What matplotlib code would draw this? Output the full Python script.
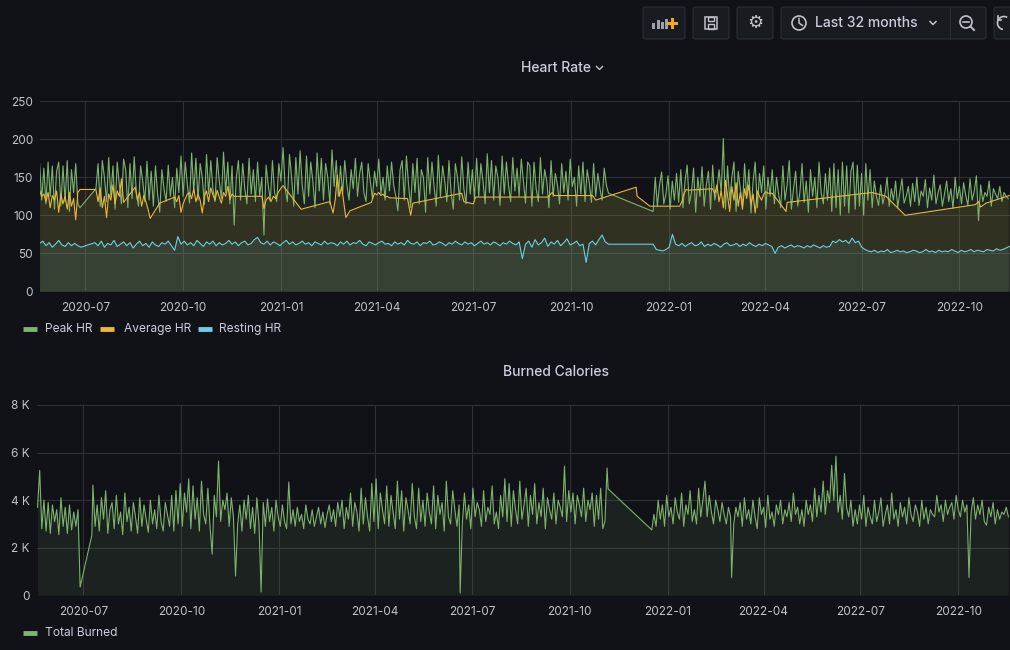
import numpy as np
import matplotlib
matplotlib.use('Agg')
import matplotlib.pyplot as plt
import matplotlib.dates as mdates
from matplotlib.patches import FancyBboxPatch, Circle, Rectangle, Arc

plt.rcParams['font.family'] = ['Inter', 'DejaVu Sans']

BG = '#111217'
GRID = '#2f3035'
TXT = '#ccccdc'
ICON = '#c2c2cc'
GREEN = '#7eb26d'
YELLOW = '#eab839'
CYAN = '#6ed0e0'

START = '2020-05-19'

# each chunk: (first day, last day, values), days counted from START
# the points of a chunk are spread evenly between first and last day,
# gaps between chunks get joined by a straight line (as grafana does)
peak_hr = [
    (0, 38, [168, 120, 162, 115, 170, 125, 165, 108, 158, 170, 112, 165, 118, 172, 105, 160, 130, 168, 115, 110]),
    (53, 535, [135, 168, 112, 172, 150, 118, 176, 125, 165, 108, 170, 140, 115, 174, 160, 110, 168, 122, 177, 130,
               112, 165, 145, 118, 171, 120,
               158, 112, 165, 128, 104, 160, 135, 118, 166, 125, 150, 110, 162, 130,
               178, 125, 170, 140, 116, 182, 130, 175, 120, 168, 150, 114, 180, 128, 172, 135, 118, 176, 145, 122,
               183, 130, 170, 115, 165, 87,
               150, 172, 120, 168, 135, 115, 175, 128, 160, 118, 170, 125, 150, 74, 166, 140, 120, 172, 130, 118,
               168, 145,
               189, 135, 118, 180, 150, 112, 176, 128, 185, 140, 115, 178, 125, 170, 145, 110, 182, 132, 175, 120,
               168, 150, 115, 186, 138, 172, 125,
               165, 128, 172, 140, 120, 160, 135, 175, 125, 155, 170, 130, 118, 168, 145, 122, 158, 138, 174, 128,
               150, 120, 165, 132, 170, 140, 125, 106, 160,
               172, 120, 178, 140, 110, 168, 130, 175, 115, 160, 150, 104, 176, 128, 170, 138, 112, 179, 125, 165,
               145, 118, 172, 130, 108, 168, 150, 120, 177, 135, 115, 170, 128, 160, 122,
               175, 125, 168, 145, 115, 181, 130, 172, 120, 165, 150, 113, 178, 128, 170, 140, 118, 176, 132, 162,
               125, 174, 145, 116, 170,
               165, 112, 170, 135, 118, 176, 128, 160, 145, 110, 172, 125, 155, 140, 115, 168, 130, 158, 120, 174,
               138, 150, 112, 165, 128, 170, 118, 160, 142, 117, 168, 125, 155, 135, 120, 162, 140, 129]),
    (577, 911, [105, 150, 112, 140, 157, 115, 128, 152, 108, 145, 120, 155, 117,
                160, 110, 145, 166, 115, 130, 162, 104, 150, 125, 164, 112, 140, 158, 108, 166, 120, 135, 160,
                130, 201, 108, 165, 120, 150, 170, 105, 158, 135, 112, 168, 125, 160, 103, 145, 170, 110, 155, 130,
                165, 108, 150, 125, 160,
                115, 150, 128, 110, 165, 120, 140, 172, 108, 135, 158, 112, 130, 168, 117, 145, 104, 160, 125, 150,
                110, 170, 130, 115, 155, 120, 162,
                105, 168, 110, 160, 100, 170, 112, 165, 103, 158, 170, 108, 166, 112, 155, 100, 168, 120, 160, 110,
                145, 125, 113,
                140, 115, 128, 150, 112, 135, 120, 145, 110, 130, 148, 116, 125, 138, 112, 142, 118, 150, 113, 132,
                125, 147, 110, 136, 120, 153, 115, 130, 140, 112, 128, 145, 118, 135, 109, 150, 122, 138, 115, 143,
                126, 113, 148, 120, 132, 152, 93, 140, 118, 130, 125, 145, 112, 135, 128, 122, 138, 118, 130, 125,
                122]),
]

average_hr = [
    (0, 36, [133, 125, 128, 118, 130, 110, 126, 120, 132, 104, 128, 115, 125, 108, 130, 112, 122, 94, 130]),
    (38, 38, [134]), (53, 53, [134]),
    (55, 77, [118, 136, 110, 125, 97, 128, 120, 140, 115, 132, 125, 148]),
    (79, 79, [117]), (90, 90, [137]),
    (92, 104, [120, 130, 112, 126, 118, 108, 96]),
    (113, 113, [116]), (127, 127, [124]),
    (129, 141, [118, 126, 104, 115, 122, 128, 130]),
    (143, 185, [122, 135, 118, 128, 120, 103, 125, 132, 118, 136, 127, 120, 133, 124, 116, 130, 125, 138, 121,
                128, 125, 125]),
    (209, 209, [125]), (211, 211, [109]),
    (213, 229, [120, 124, 118, 125, 122, 130, 135, 139]),
    (246, 246, [108]), (273, 273, [118]), (276, 276, [103]),
    (278, 288, [120, 153, 125, 138, 118, 97]),
    (292, 292, [106]), (312, 312, [117]), (315, 315, [129]),
    (317, 329, [127, 130, 126, 128, 124, 125, 123]),
    (346, 346, [122]), (349, 349, [100]), (351, 351, [116]), (397, 397, [129]), (399, 399, [118]),
    (408, 408, [115]), (410, 410, [124]), (478, 478, [124]), (482, 482, [130]), (484, 484, [126]),
    (520, 520, [126]), (523, 523, [120]), (561, 561, [137]), (562, 562, [125]), (574, 574, [112]),
    (602, 602, [112]),
    (604, 610, [118, 128, 134, 133]),
    (633, 633, [135]),
    (635, 685, [128, 140, 118, 132, 110, 146, 125, 105, 138, 120, 143, 112, 130, 108, 135, 122, 140, 115, 128,
                103, 132, 125, 120, 128, 131, 129]),
    (689, 689, [129]), (702, 702, [105]), (703, 703, [117]), (783, 783, [130]), (796, 796, [125]),
    (814, 814, [100]), (880, 880, [114]), (883, 883, [118]), (885, 885, [111]), (890, 890, [116]),
    (912, 912, [126]),
]

resting_hr = [
    (0, 39, [63, 66, 60, 64, 58, 62, 67, 61, 59, 64, 60, 63, 60, 58]),
    (52, 535, [64, 60, 66, 58, 63, 61, 67, 59, 62, 65, 60, 64, 57, 62, 66, 60, 63, 58, 65, 61, 59, 64, 62, 66, 60,
               54, 72,
               62, 66, 61, 64, 60, 67, 63, 59, 65, 62, 66, 60, 64, 61, 63, 67, 62, 65, 60, 64, 66, 61, 63, 68,
               71,
               64, 62, 66, 61, 65, 63, 60, 64, 67, 62, 65, 61, 63, 66, 62, 64, 60, 65, 63, 61, 66, 62, 64, 63, 60,
               65, 62, 66, 61, 64, 63, 67, 62, 60, 65, 63, 61, 64, 66, 62, 63, 60, 65, 62, 64, 61, 67, 63, 62, 65,
               60, 64, 63, 66, 61, 62, 65, 63, 60, 64, 62, 66, 63, 61, 65, 62, 64, 60, 63, 66, 62, 64, 61, 65, 63,
               60, 64, 62, 66, 63, 61, 65,
               43,
               62, 66, 58, 68, 61, 64, 70, 59, 65, 62, 67, 60, 64, 69, 61, 63, 66, 60, 62,
               38,
               63, 66, 61, 68, 74, 65, 62]),
    (577, 912, [62, 55, 54, 53, 55, 58, 75, 62,
                60, 63, 59, 62, 64, 60, 61, 65, 59, 62, 60, 63, 61, 58, 62, 64, 60, 61, 63, 59, 62, 60, 64, 61, 59,
                62, 60, 63, 61, 59,
                50,
                58, 60, 57, 59, 61, 58, 60, 59, 57, 60, 58, 61, 59, 57, 60, 58, 59,
                66, 64, 68, 65, 67, 63, 70, 64, 66,
                58, 55, 53, 52, 54, 51, 53, 52, 55, 51, 52, 54, 52, 53, 51, 52, 54, 53, 51, 52, 55, 52, 53, 51, 54,
                52, 53, 52, 55, 53, 51, 54, 52, 53, 55, 52, 54, 53, 52, 55, 54, 53, 56, 54, 55, 57, 59]),
]

total_burned = [
    (0, 38, [3700, 5250, 2800, 4000, 2700, 3900, 2600, 3800, 3100, 3600, 2550, 4100, 2900, 3700, 2600, 3800,
             2750, 3500, 2900, 3600]),
    (40, 40, [350]), (51, 51, [2530]),
    (52, 396, [4630, 2900, 3800, 2700, 4100, 3200, 4400, 2600, 3600, 3900, 2800, 4200, 3000, 3500, 2550, 4300,
               3100, 3700, 2700, 3900, 3300, 2600, 4100, 2900, 3800, 3200, 2650, 4000, 3000, 3600, 2800, 4200,
               3100, 2700, 3900, 3400, 2900,
               4200, 2700, 4400, 3000, 4700, 2900, 4300, 3500, 4900, 2800, 4600, 3200, 4100, 2700, 4800, 3400,
               3000, 4500, 2900, 1730, 4200, 3300, 5640, 3100, 4000, 3600, 4300, 2900, 4100, 3300, 810, 3000,
               3800, 2700, 4000, 3200, 4200, 2800, 3700, 2600, 4100, 3000, 140, 3900, 2900, 4050, 3100, 3700,
               2700, 4000, 3300, 2900, 3800, 3100, 2800, 4760,
               3000, 3600, 2900, 3700, 3100, 3400, 2800, 3800, 3200, 3000, 3600, 2900, 3300, 3700, 3000, 3500,
               2850, 3400, 3800, 3100, 3600, 2900, 3900, 3300,
               4000, 2800, 3700, 3200, 4300, 2900, 3900, 3500, 2700, 4500, 3000, 4100, 3300, 2700, 4700, 3100,
               4900, 2800, 4300, 3600, 3000, 4600, 2900, 4200, 3500, 2800, 4800, 3200, 4400, 2700, 4100, 3600,
               3000, 4700, 3300, 2800, 4500, 3100, 4000, 2900, 4300, 3500, 3000, 4600, 2800, 4200, 3400, 3900,
               2700, 4800, 3300, 3000, 4400, 3600, 2900, 3800]),
    (397, 397, [100]),
    (399, 533, [3000, 4300, 3200, 3800, 2800, 4500, 3300, 3900, 3600, 2900, 4400, 3100, 3700, 3400, 4600, 3000,
                3500, 2800, 4200, 3300, 4900, 3100, 4700, 2900, 4400, 3600, 3000, 4800, 3200, 3800, 4500, 2900,
                4200, 3400, 4700, 3000, 3900, 3300, 4500, 2800, 4100, 3600, 3200, 4300, 3000, 4000, 3700, 3300,
                5430, 3100, 4400, 3500, 4300, 3000, 4200, 3800, 3300, 4500, 3100, 4000, 3600, 4300, 2900, 4200,
                3200, 4500, 2800, 3100]),
    (535, 535, [5350]), (536, 536, [4470]),
    (577, 625, [2750, 3400, 2900, 4000, 3200, 3800, 2900, 4200, 3300, 3700, 3000, 4100, 3500, 3200, 4300, 2900,
                3800, 3400, 4400, 3100, 3600, 3000, 4500, 3300, 4000]),
    (627, 627, [4800]),
    (629, 651, [3300, 4200, 3500, 3000, 4000, 3600, 3100, 3900, 3400, 3000, 3700, 3300]),
    (652, 652, [750]),
    (654, 744, [3000, 3700, 3300, 3900, 2900, 4100, 3200, 3600, 3000, 4000, 3300, 2800, 4100, 3400, 3700, 2850,
                4200, 3200, 3500, 2900, 3800, 3400, 4000, 3000, 3600, 3300, 3900, 3100, 4300, 3400, 3700, 3000,
                3600, 2900, 4000, 3400, 3800, 3100, 4500, 3300, 4200, 3500, 4800, 3400, 4400, 3900]),
    (746, 760, [5470, 4000, 5850, 3500, 4200, 3200, 5120, 3700]),
    (762, 873, [3300, 4000, 2900, 3600, 3000, 3800, 3200, 4200, 2900, 3700, 3300, 3000, 4000, 3100, 3500, 4100,
                2900, 3400, 3800, 3000, 4300, 3200, 3600, 2900, 3900, 3300, 3700, 3000, 4100, 3400, 3100, 3800,
                3500, 2900, 4000, 3200, 3700, 3000, 3600, 3400, 3300, 4200, 3500, 3800, 3100, 4000, 3400, 3700,
                3900, 3200, 4200, 3600, 3300, 4000, 3500, 3800]),
    (875, 875, [750]),
    (877, 912, [3500, 4100, 3200, 3800, 3400, 4000, 3100, 2950, 3700, 3300, 3900, 3000, 3600, 3200, 3500, 3400,
                3700, 3300]),
]

hr_ticks = [0, 50, 100, 150, 200, 250]
cal_ticks = [0, 2000, 4000, 6000, 8000]
cal_labels = ['0', '2 K', '4 K', '6 K', '8 K']

t0 = mdates.date2num(np.datetime64(START))


def series(chunks):
    days, vals = [], []
    for d0, d1, v in chunks:
        days.extend(np.linspace(d0, d1, len(v)))
        vals.extend(v)
    return t0 + np.array(days), np.array(vals, dtype=float)


def style(ax, ticks, labels, ylim, xlim):
    ax.set_facecolor('none')
    for s in ax.spines.values():
        s.set_visible(False)
    ax.set_ylim(*ylim)
    ax.set_xlim(t0 + xlim[0], t0 + xlim[1])
    ax.set_yticks(ticks)
    ax.set_yticklabels(labels)
    ax.xaxis.set_major_locator(mdates.MonthLocator(bymonth=[1, 4, 7, 10]))
    ax.xaxis.set_major_formatter(mdates.DateFormatter('%Y-%m'))
    ax.set_axisbelow(True)
    ax.grid(True, color=GRID, lw=0.8)
    ax.tick_params(length=0, colors=ICON, labelsize=8.5)
    ax.tick_params(axis='y', pad=5)
    ax.tick_params(axis='x', pad=8)


fig = plt.figure(figsize=(10.1, 6.5), dpi=100, facecolor=BG)

# heart rate panel
ax1 = fig.add_axes([40 / 1010, (650 - 291.3) / 650, 970 / 1010, 190 / 650])
for chunks, col in [(peak_hr, GREEN), (average_hr, YELLOW), (resting_hr, CYAN)]:
    x, y = series(chunks)
    ax1.fill_between(x, y, 0, color=col, alpha=0.1, lw=0)
for chunks, col in [(peak_hr, GREEN), (average_hr, YELLOW), (resting_hr, CYAN)]:
    x, y = series(chunks)
    ax1.plot(x, y, color=col, lw=0.8)
style(ax1, hr_ticks, [str(t) for t in hr_ticks], (0, 250), (0.4, 912.6))

# burned calories panel
ax2 = fig.add_axes([36.7 / 1010, (650 - 595.3) / 650, 973.3 / 1010, 190.3 / 650])
x, y = series(total_burned)
ax2.fill_between(x, y, 0, color=GREEN, alpha=0.1, lw=0)
ax2.plot(x, y, color=GREEN, lw=0.8)
style(ax2, cal_ticks, cal_labels, (0, 8000), (-0.8, 913.5))

# overlay in pixel coords for titles, legends and the toolbar
ov = fig.add_axes([0, 0, 1, 1])
ov.set_xlim(0, 1010)
ov.set_ylim(650, 0)
ov.axis('off')
ov.patch.set_alpha(0)
ov.set_zorder(10)

ov.text(556, 68, 'Heart Rate', ha='center', va='center', fontsize=10, color=TXT, fontweight='medium')
ov.plot([596.5, 599.5, 602.5], [66.5, 69.5, 66.5], color=ICON, lw=1)
ov.text(556, 372, 'Burned Calories', ha='center', va='center', fontsize=10, color=TXT, fontweight='medium')

for x0, x1, tx, name, col in [(23, 37, 45, 'Peak HR', GREEN), (100, 114, 124, 'Average HR', YELLOW),
                              (198, 212, 219, 'Resting HR', CYAN)]:
    ov.plot([x0, x1], [329, 329], color=col, lw=3.5, solid_capstyle='butt')
    ov.text(tx, 329, name, ha='left', va='center', fontsize=8.6, color=TXT)
ov.plot([23, 37], [633, 633], color=GREEN, lw=3.5, solid_capstyle='butt')
ov.text(45, 633, 'Total Burned', ha='left', va='center', fontsize=8.6, color=TXT)

# toolbar buttons
for bx, bw in [(643, 42), (693, 36), (737, 36), (781, 205), (994, 40)]:
    ov.add_patch(FancyBboxPatch((bx, 7), bw, 32, boxstyle='round,pad=0,rounding_size=2',
                                fc='#181b1f', ec='#2a2d33', lw=0.8))
ov.plot([950, 950], [7, 39], color='#2a2d33', lw=0.8)

# add panel icon
for bx, top in [(652, 23), (656.5, 20), (661, 22), (665, 19)]:
    ov.add_patch(Rectangle((bx, top), 3, 29 - top, fc='#9fa0a8', ec='none'))
ov.plot([668, 676], [22.5, 22.5], color='#f5a623', lw=2.2)
ov.plot([672, 672], [18.5, 26.5], color='#f5a623', lw=2.2)

# save icon
ov.add_patch(Rectangle((705, 17), 12, 12, fill=False, ec=ICON, lw=1.1))
ov.add_patch(Rectangle((708, 17), 6, 4, fill=False, ec=ICON, lw=1))
ov.add_patch(Rectangle((708, 24), 6, 5, fill=False, ec=ICON, lw=1))

# settings icon
ov.text(755, 23.5, '\u2699', ha='center', va='center', fontsize=13, color=ICON, family='DejaVu Sans')

# time picker
ov.add_patch(Circle((799, 23), 7, fill=False, ec=ICON, lw=1.2))
ov.plot([799, 799, 802.5], [18.5, 23, 25.5], color=ICON, lw=1.1)
ov.text(866, 23, 'Last 32 months', ha='center', va='center', fontsize=10, color=TXT, fontweight='medium')
ov.plot([930, 933, 936], [21.5, 24.5, 21.5], color=ICON, lw=1.1)

# zoom out
ov.add_patch(Circle((966, 22), 6, fill=False, ec=ICON, lw=1.2))
ov.plot([963, 969], [22, 22], color=ICON, lw=1.2)
ov.plot([970.5, 974], [26.5, 30], color=ICON, lw=1.4)

# refresh (cut off at the edge)
ov.add_patch(Arc((1004, 23), 13, 13, theta1=100, theta2=300, ec=ICON, lw=1.2))
ov.plot([997.5, 997.5, 1001], [15.5, 19.5, 19.5], color=ICON, lw=1.2)

fig.savefig('out.png', dpi=100, facecolor=BG)
